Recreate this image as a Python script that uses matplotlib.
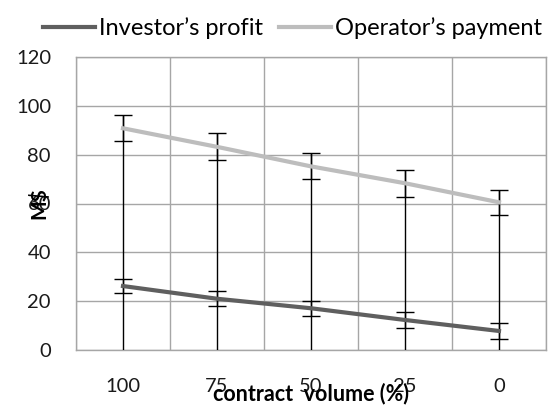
import matplotlib
matplotlib.use('Agg')
import matplotlib.pyplot as plt
import numpy as np

# data
volume = ['100', '75', '50', '25', '0']
investor = [26.2, 21.0, 17.1, 12.3, 7.8]
investor_err = [3.0, 3.0, 3.1, 3.2, 3.1]
operator = [90.8, 83.2, 75.2, 68.3, 60.5]
operator_err = [5.3, 5.5, 5.3, 5.5, 5.2]

plt.rcParams['font.family'] = ['Lato', 'DejaVu Sans']

fig = plt.figure(figsize=(5.6, 4.07), dpi=100)
ax = fig.add_axes([0.1357, 0.14, 0.8393, 0.72])

x = np.arange(len(volume))
grid_col = '#a6a6a6'

# vertical black stems from axis to top of operator error bar
tops = np.array(operator) + np.array(operator_err)
ax.vlines(x, 0, tops, color='black', lw=1.0, zorder=3)
ax.errorbar(x, operator, yerr=operator_err, fmt='none', ecolor='black',
            elinewidth=1.0, capsize=6.5, capthick=1.0, zorder=3)
ax.errorbar(x, investor, yerr=investor_err, fmt='none', ecolor='black',
            elinewidth=1.0, capsize=6.5, capthick=1.0, zorder=3)

ax.plot(x, investor, color='#5f5f5f', lw=3, label='Investor\u2019s profit', zorder=4)
ax.plot(x, operator, color='#bdbdbd', lw=3, label='Operator\u2019s payment', zorder=4)

ax.set_xlim(-0.5, len(volume) - 0.5)
ax.set_ylim(0, 120)
ax.set_yticks(range(0, 121, 20))
ax.set_xticks(x)
ax.set_xticklabels(volume)
ax.set_xticks(np.arange(-0.5, len(volume)), minor=True)
ax.grid(True, which='minor', axis='x', color=grid_col, lw=1.0)
ax.grid(True, which='major', axis='y', color=grid_col, lw=1.0)
ax.set_axisbelow(True)
for s in ax.spines.values():
    s.set_color(grid_col)
    s.set_linewidth(1.0)
ax.tick_params(which='both', length=0, labelsize=14.5, colors='#1a1a1a')
ax.tick_params(axis='x', pad=20)
ax.tick_params(axis='y', pad=18)

ax.set_xlabel('contract  volume (%)', fontsize=15.5, fontweight='bold', labelpad=-9)
ax.set_ylabel('M$', fontsize=15, fontweight='bold', labelpad=-24)

fig.legend(loc='upper center', bbox_to_anchor=(0.522, 1.01), ncol=2, frameon=False,
           fontsize=17, handlelength=2.2, handletextpad=0.15, columnspacing=0.7)

plt.savefig('out.png', dpi=100)
